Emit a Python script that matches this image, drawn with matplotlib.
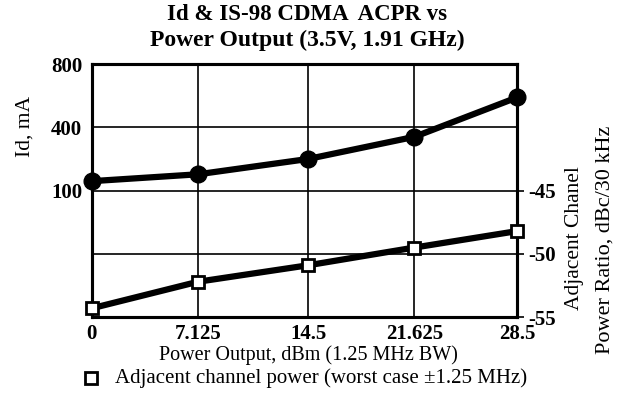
import numpy as np
import matplotlib
matplotlib.use("Agg")
import matplotlib.pyplot as plt
from matplotlib.lines import Line2D

# data
power_out = [0, 7.125, 14.5, 21.625, 28.5]
id_ma = [123, 143, 200, 325, 555]
acpr = [-54.3, -52.2, -50.9, -49.5, -48.2]

x_ticks = [0, 7.125, 14.5, 21.625, 28.5]
x_tick_labels = ["0", "7.125", "14.5", "21.625", "28.5"]
id_ticks = [100, 400, 800]
acpr_ticks = [-55, -50, -45]

plt.rcParams['font.family'] = ['Liberation Serif', 'DejaVu Serif']

# left axis: 100 -> 400 -> 800 on equally spaced grid lines
L100, L400 = np.log2(100), np.log2(400)


def fwd(v):
    lv = np.log2(np.maximum(v, 1e-3))
    return np.where(lv <= L400, 2 + (lv - L100) / 2, 3 + (lv - L400))


def inv(p):
    p = np.asarray(p, dtype=float)
    lv = np.where(p <= 3, L100 + 2 * (p - 2), L400 + (p - 3))
    return 2 ** lv


fig = plt.figure(figsize=(6.2, 3.93), dpi=100)
ax = fig.add_axes([0.148, 0.193, 0.686, 0.644])
ax.set_yscale('function', functions=(fwd, inv))
ax.set_ylim(inv(0), 800)
ax.set_xlim(0, 28.5)

ax2 = ax.twinx()
ax2.set_ylim(-55, -35)

# grid
for xv in x_ticks[1:-1]:
    ax.axvline(xv, color='black', lw=1.2, zorder=1)
for yv in [-50, -45, -40]:
    ax2.axhline(yv, color='black', lw=1.2, zorder=1)

ax.plot(power_out, id_ma, color='black', lw=4.5, marker='o', ms=12,
        mfc='black', mec='black', clip_on=False, zorder=5)
ax2.plot(power_out, acpr, color='black', lw=4.5, marker='s', ms=9,
         mfc='white', mec='black', mew=2, clip_on=False, zorder=5)

for a in (ax, ax2):
    for s in a.spines.values():
        s.set_linewidth(2.2)

ax.set_xticks(x_ticks)
ax.set_xticklabels(x_tick_labels, fontweight='bold', fontsize=15)
ax.set_yticks(id_ticks)
ax.set_yticklabels([str(t) for t in id_ticks], fontweight='bold', fontsize=15)
ax.yaxis.set_minor_locator(matplotlib.ticker.NullLocator())
ax.tick_params(axis='x', length=0, pad=5)
ax.tick_params(axis='y', length=0, pad=7)

ax2.set_yticks(acpr_ticks)
ax2.set_yticklabels([str(t) for t in acpr_ticks], fontweight='bold', fontsize=15)
ax2.tick_params(axis='y', length=5, width=1.2, pad=3)

fig.text(0.495, 0.962, "Id & IS-98 CDMA  ACPR vs", ha='center', va='center',
         fontsize=16.5, fontweight='bold')
fig.text(0.495, 0.898, "Power Output (3.5V, 1.91 GHz)", ha='center', va='center',
         fontsize=17, fontweight='bold')

fig.text(0.04, 0.677, "Id, mA", rotation=90, ha='center', va='center', fontsize=15.5)
fig.text(0.927, 0.394, "Adjacent Chanel", rotation=90, ha='center', va='center',
         fontsize=15.5)
fig.text(0.976, 0.39, "Power Ratio, dBc/30 kHz", rotation=90, ha='center',
         va='center', fontsize=16)

fig.text(0.497, 0.097, "Power Output, dBm (1.25 MHz BW)", ha='center', va='center',
         fontsize=14.5)
# legend key: hollow square
fig.add_artist(Line2D([0.147], [0.038], transform=fig.transFigure, marker='s',
                      ms=9, mfc='white', mec='black', mew=2, ls='none'))
fig.text(0.186, 0.038, "Adjacent channel power (worst case \u00b11.25 MHz)",
         ha='left', va='center', fontsize=15)

fig.savefig("out.png", dpi=100)
